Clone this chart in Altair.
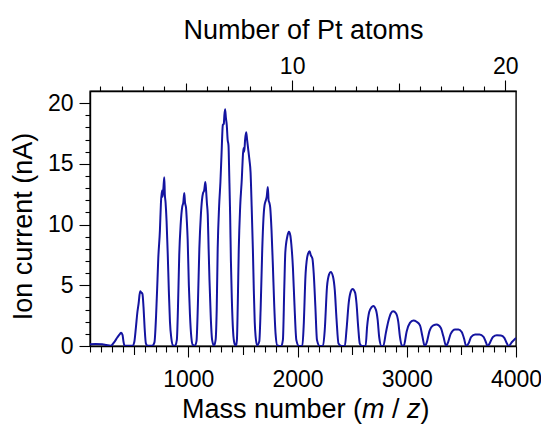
import altair as alt
import pandas as pd

# ---- data ----
mass_mz = [100, 150, 213, 250, 290,
           320, 350, 375, 385, 398, 406, 415, 450, 490,
           505, 520, 534, 545, 559, 570, 580, 590, 600, 612, 630, 670,
           690, 705, 718, 725, 740, 749, 758, 765, 772, 780, 785, 792, 801, 812, 822, 832, 845, 860, 880,
           895, 905, 917, 930, 945, 954, 963, 970, 979, 987, 994, 1005, 1015, 1028, 1040, 1060,
           1075, 1088, 1101, 1115, 1126, 1135, 1145, 1156, 1163, 1170, 1178, 1186, 1194, 1205, 1218, 1235,
           1250, 1260, 1269, 1282, 1294, 1305, 1316, 1325, 1330, 1337, 1344, 1352, 1360, 1368, 1375, 1383, 1390, 1398, 1410, 1423, 1437,
           1445, 1453, 1462, 1475, 1490, 1497, 1505, 1512, 1520, 1530, 1538, 1551, 1560, 1570, 1580, 1591, 1600, 1608, 1616, 1630,
           1650, 1662, 1677, 1688, 1698, 1710, 1718, 1728, 1735, 1742, 1750, 1762, 1774, 1786, 1799, 1815,
           1851, 1866, 1879, 1888, 1906, 1921, 1934, 1943, 1958, 1971, 1989, 2013,
           2044, 2056, 2074, 2096, 2111, 2120, 2136, 2148, 2163, 2178, 2203,
           2233, 2249, 2270, 2289, 2304, 2325, 2341, 2357, 2375, 2403,
           2433, 2448, 2469, 2488, 2503, 2527, 2540, 2555, 2570, 2592,
           2623, 2637, 2656, 2678, 2693, 2717, 2733, 2748, 2769,
           2785, 2809, 2830, 2855, 2876, 2901, 2922, 2937, 2956,
           2974, 2999, 3029, 3060, 3090, 3121, 3143, 3164,
           3183, 3207, 3243, 3274, 3311, 3335, 3360,
           3378, 3402, 3442, 3473, 3503, 3525, 3543,
           3565, 3590, 3626, 3666, 3703, 3727, 3739,
           3758, 3789, 3825, 3862, 3893, 3917, 3932, 3963, 4000]

ion_current_nA = [0.15, 0.17, 0.15, 0.08, 0.02,
                  0.3, 0.7, 1.0, 1.1, 0.9, 0.4, 0.05, 0.02, 0.03,
                  0.3, 1.5, 2.8, 3.5, 4.5, 4.4, 4.3, 3.2, 1.5, 0.2, 0.02, 0.03,
                  0.3, 2.5, 5.5, 7.2, 9.5, 11.7, 12.8, 12.3, 13.0, 13.9, 12.5, 11.8, 10.3, 7.5, 4.5, 2.0, 0.6, 0.05, 0.02,
                  0.5, 3.0, 7.5, 10.0, 11.5, 11.8, 12.6, 11.8, 11.4, 10.2, 8.8, 5.0, 2.6, 0.7, 0.1, 0.02,
                  0.4, 3.5, 8.0, 10.8, 12.1, 12.6, 12.8, 13.5, 12.8, 11.8, 10.8, 8.0, 5.4, 2.5, 0.5, 0.02,
                  0.5, 3.0, 8.0, 11.5, 13.5, 16.0, 18.2, 18.3, 19.0, 19.5, 18.8, 18.2, 17.0, 16.5, 14.0, 10.8, 7.0, 4.0, 1.2, 0.2, 0.02,
                  0.5, 3.5, 8.0, 11.5, 13.8, 15.2, 16.3, 16.0, 17.0, 17.6, 17.0, 16.0, 15.3, 14.3, 11.5, 8.0, 4.5, 2.0, 0.8, 0.05,
                  0.4, 3.0, 8.0, 10.5, 11.6, 12.0, 12.3, 13.1, 12.0, 11.8, 11.4, 9.5, 6.7, 3.5, 1.0, 0.05,
                  0.0, 0.5, 4.9, 7.7, 9.0, 9.4, 9.1, 8.4, 6.4, 3.6, 0.5, 0.0,
                  0.0, 1.6, 6.0, 7.6, 7.8, 7.5, 7.2, 6.0, 3.3, 0.5, 0.0,
                  0.0, 1.3, 4.9, 5.9, 6.1, 5.7, 4.6, 2.2, 0.2, 0.0,
                  0.0, 1.3, 3.6, 4.5, 4.7, 4.4, 3.5, 1.6, 0.2, 0.0,
                  0.0, 1.6, 2.8, 3.2, 3.3, 3.0, 2.2, 0.7, 0.0,
                  0.0, 1.1, 2.0, 2.7, 2.86, 2.7, 2.0, 0.8, 0.0,
                  0.05, 1.2, 1.9, 2.1, 2.0, 1.7, 0.8, 0.0,
                  0.3, 1.2, 1.7, 1.77, 1.5, 0.8, 0.0,
                  0.3, 1.0, 1.36, 1.36, 1.15, 0.6, 0.0,
                  0.2, 0.75, 0.94, 0.94, 0.75, 0.25, 0.0,
                  0.2, 0.75, 0.89, 0.87, 0.67, 0.2, 0.0, 0.33, 0.67]

mass_ticks = list(range(100, 4001, 100))
current_ticks = list(range(0, 21))
pt_atom_ticks = list(range(1, 21))
PT_MASS = 195.084
MASS_DOMAIN = [100, 4000]
CURRENT_DOMAIN = [0, 21]

x_title_parts = ["Mass number (", "m", "/", "z", ")"]
x_title_styles = ["normal", "italic", "normal", "italic", "normal"]
x_title_pos = [92, 272, 302, 317, 330.5]

FONT = "Liberation Sans"
BLUE = "#1414a0"

df = pd.DataFrame({"mass": mass_mz, "current": ion_current_nA})

line = alt.Chart(df).mark_line(color=BLUE, strokeWidth=2, interpolate="monotone", clip=True).encode(
    x=alt.X("mass:Q",
            scale=alt.Scale(domain=MASS_DOMAIN, nice=False, zero=False),
            axis=alt.Axis(orient="bottom", values=mass_ticks, format="d",
                          labelExpr="datum.value % 1000 === 0 ? datum.label : ''",
                          tickSize={"expr": "datum.value % 1000 === 0 ? 11 : (datum.value % 500 === 0 ? 8.5 : 6)"},
                          labelPadding=11, labelFlush=False, labelOverlap=False,
                          title=None)),
    y=alt.Y("current:Q",
            scale=alt.Scale(domain=CURRENT_DOMAIN, nice=False),
            axis=alt.Axis(orient="left", values=current_ticks,
                          labelExpr="datum.value % 5 === 0 ? datum.label : ''",
                          tickSize={"condition": {"test": "datum.value % 5 === 0", "value": 11},
                                    "value": 5},
                          labelPadding=6, labelOverlap=False, labelFlush=False,
                          title="Ion current (nA)", titleX=-59, titleY=135,
                          titleBaseline="alphabetic", titleAngle=270)),
)

atoms_df = pd.DataFrame({"atoms": pt_atom_ticks})
atom_domain = [MASS_DOMAIN[0] / PT_MASS, MASS_DOMAIN[1] / PT_MASS]
top = alt.Chart(atoms_df).mark_point(opacity=0).encode(
    x=alt.X("atoms:Q",
            scale=alt.Scale(domain=atom_domain, nice=False, zero=False),
            axis=alt.Axis(orient="top", values=pt_atom_ticks, format="d",
                          labelExpr="datum.value % 10 === 0 ? datum.label : ''",
                          tickSize={"expr": "datum.value % 10 === 0 ? 11 : (datum.value % 5 === 0 ? 8 : 5)"},
                          labelPadding=7, labelBaseline="alphabetic",
                          labelFlush=False, labelOverlap=False,
                          title="Number of Pt atoms", titleY=-53,
                          titleBaseline="alphabetic")),
)

layers = [line, top]
for txt, sty, xp in zip(x_title_parts, x_title_styles, x_title_pos):
    layers.append(
        alt.Chart(pd.DataFrame({"t": [txt]})).mark_text(
            align="left", baseline="alphabetic", font=FONT, fontSize=27,
            fontStyle=sty, color="black"
        ).encode(text="t:N", x=alt.value(xp), y=alt.value(327))
    )

chart = alt.layer(*layers).resolve_scale(x="independent").properties(
    width=426, height=255,
    autosize=alt.AutoSizeParams(type="none"),
    padding={"left": 82, "top": 83, "right": 25, "bottom": 82},
).configure_view(stroke="black", strokeWidth=1.4).configure_axis(
    grid=False, domainColor="black", domainWidth=1.4,
    tickColor="black", tickWidth=1.1,
    labelFont=FONT, labelFontSize=23, labelColor="black",
    titleFont=FONT, titleFontSize=27, titleFontWeight="normal", titleColor="black",
)

chart.save("out.html", embed_options={"renderer": "svg", "actions": False})
